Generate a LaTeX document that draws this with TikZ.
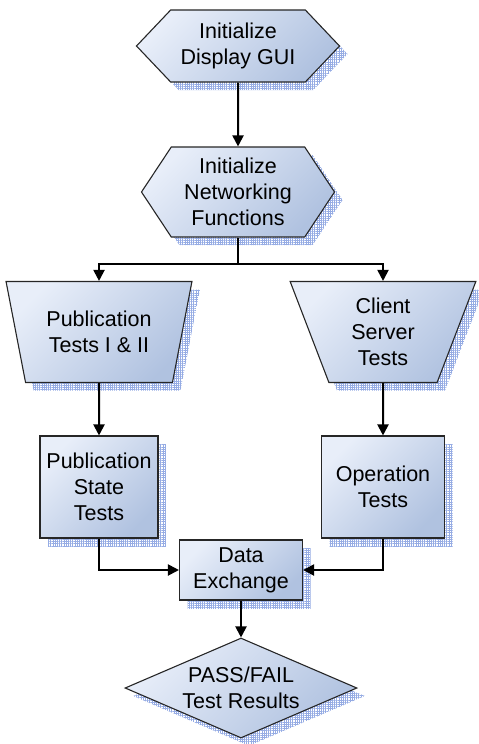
\documentclass[tikz,border=0pt]{standalone}
\usepackage{fontspec}
\setmainfont{Liberation Sans}
\usepackage{tikz}
\usetikzlibrary{arrows.meta,positioning,shapes.geometric,shapes.symbols,shadows,patterns.meta}

\definecolor{gradlight}{RGB}{232,238,249}
\definecolor{graddark}{RGB}{176,194,224}
\definecolor{hatchblue}{RGB}{150,172,228}

\tikzset{
  block/.style={draw=black!85,line width=1.1pt,top color=gradlight,bottom color=graddark,shading angle=45,
    align=center,inner sep=0pt,font=\fontsize{21.5}{26}\selectfont,
    drop shadow={shadow xshift=8pt,shadow yshift=-8pt,opacity=1,draw=none,
      pattern={Hatch[angle=0,distance=2.2pt,line width=0.6pt]},pattern color=hatchblue}},
  hexa/.style={block,signal,signal to=west and east},
  tub/.style={block,trapezium,shape border rotate=180,trapezium left angle=71.5,trapezium right angle=71.5,
    trapezium stretches=true,minimum width=186pt,minimum height=101pt},
  box/.style={block,rectangle,minimum height=102pt},
  test/.style={block,diamond,aspect=2.32,minimum width=232pt,minimum height=100pt},
}

\begin{document}
\begin{tikzpicture}[x=1pt,y=1pt,node distance=100pt,on grid,>={Triangle[length=11pt,width=11pt]},
    flow/.style={->,line width=2pt}]
  \useasboundingbox (0,0) rectangle (479,-744);

  \node[hexa,signal pointer angle=93,minimum width=203pt,minimum height=72pt] (gui) at (238,-46) {Initialize\\Display GUI};
  \node[hexa,signal pointer angle=113,minimum width=193pt,minimum height=90pt] (net) [below=146pt of gui] {Initialize\\Networking\\Functions};

  \node[tub] (pub) [below left=140pt and 139pt of net] {Publication\\Tests I \& II};
  \node[tub] (cs) [below right=140pt and 145pt of net] {Client\\Server\\Tests};

  \node[box,minimum width=118pt] (pst) [below=155pt of pub] {Publication\\State\\Tests};
  \node[box,minimum width=123pt] (op) [below=155pt of cs] {Operation\\Tests};

  \node[box,minimum width=123pt,minimum height=60pt] (dx) [below=378pt of net,xshift=3pt] {Data\\Exchange};
  \node[test] (res) [below=118pt of dx] {PASS/FAIL\\Test Results};

  \coordinate (split) at ([yshift=-26pt]net.south);

  \draw[flow] (gui) -- (net);
  \draw[line width=2pt] (net.south) -- (split);
  \draw[flow] (split) -| (pub.north);
  \draw[flow] (split) -| (cs.north);
  \draw[flow] (pub.south) -- (pst.north);
  \draw[flow] (cs.south) -- (op.north);
  \draw[flow] (pst.south) |- (dx.west);
  \draw[flow] (op.south) |- (dx.east);
  \draw[flow] (dx) -- (res);
\end{tikzpicture}
\end{document}
